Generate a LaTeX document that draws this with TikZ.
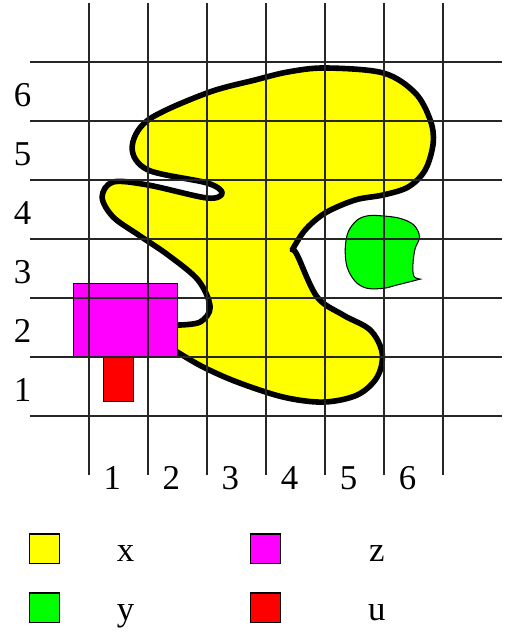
\documentclass[tikz,border=0pt]{standalone}
\usepackage{fontspec}
\setmainfont{Liberation Serif}
\usetikzlibrary{positioning}
\definecolor{regionx}{RGB}{255,255,0}
\definecolor{regiony}{RGB}{0,255,0}
\definecolor{regionz}{RGB}{255,0,255}
\definecolor{regionu}{RGB}{255,0,0}

\begin{document}
\begin{tikzpicture}[
    every node/.style={font=\fontsize{16.8}{20}\selectfont, inner sep=0pt},
    gridline/.style={draw=black!85, line width=0.7pt},
    blob/.style={draw=black, line width=2.7pt, line join=round},
    thinline/.style={draw=black, line width=0.5pt},
    legendbox/.style={draw=black, line width=0.6pt, minimum size=0.5cm, inner sep=0pt}
]
    \useasboundingbox (-1.51,-3.71) rectangle (7.15,7.05);

    % Regions
    \filldraw[blob, fill=regionx] (1.3,1.1)
        -- plot[smooth, tension=0.55] coordinates {(1.486,1.09) (1.932,0.831) (2.508,0.576) (3.288,0.322) (3.966,0.237) (4.542,0.356) (4.881,0.661) (4.966,1.068) (4.763,1.458) (4.305,1.712) (3.864,2.017) (3.525,2.729) (3.441,2.814)}
        -- plot[smooth, tension=0.55] coordinates {(3.441,2.814) (3.661,3.153) (4.0,3.441) (4.508,3.661) (4.983,3.746) (5.407,3.881) (5.695,4.169) (5.831,4.627) (5.78,5.017) (5.525,5.475) (4.983,5.814) (4.0,5.898) (3.373,5.831) (2.814,5.695) (2.0,5.475) (1.0,5.017) (0.729,4.542) (1.0,4.169) (2.0,3.949) (2.254,3.78) (2.0,3.695) (1.0,3.915) (0.407,3.966) (0.22,3.712) (0.407,3.373) (0.85,3.06) (1.35,2.72) (1.85,2.3) (2.051,1.847) (1.881,1.593) (1.508,1.542)}
        -- (1.3,1.54) -- cycle;
    \filldraw[thinline, fill=regiony]
        plot[smooth, tension=0.55] coordinates {(5.61,2.32) (5.215,2.22) (4.99,2.165) (4.71,2.165) (4.51,2.28) (4.37,2.53) (4.34,2.84) (4.39,3.12) (4.54,3.32) (4.73,3.395) (4.99,3.39) (5.27,3.35) (5.5,3.24) (5.6,3.04) (5.525,2.84) (5.49,2.615) (5.49,2.42) (5.525,2.345) (5.61,2.32)} -- cycle;
    \filldraw[thinline, fill=regionz] (-0.265,1) rectangle (1.49,2.25);
    \filldraw[thinline, fill=regionu] (0.25,0.25) rectangle (0.75,1);

    % Grid
    \foreach \k in {0,...,6} {
        \draw[gridline] (-1,\k) -- (7,\k);
        \draw[gridline] (\k,-1) -- (\k,7);
    }
    \foreach \k in {1,...,6} {
        \node (row\k) at (-1.127,\k-0.56) {\k};
        \node (col\k) at (\k-0.605,-1.056) {\k};
    }

    % Legend
    \node[legendbox, fill=regionx] (keyx) at (-0.758,-2.25) {};
    \node[legendbox, fill=regiony] (keyy) at (-0.758,-3.25) {};
    \node[legendbox, fill=regionz] (keyz) at (2.99,-2.25) {};
    \node[legendbox, fill=regionu] (keyu) at (2.99,-3.25) {};
    \node[anchor=base] (labx) at (0.62,-2.47) {x};
    \node[anchor=base] (laby) at (0.62,-3.47) {y};
    \node[anchor=base] (labz) at (4.876,-2.47) {z};
    \node[anchor=base] (labu) at (4.876,-3.47) {u};

\end{tikzpicture}
\end{document}
